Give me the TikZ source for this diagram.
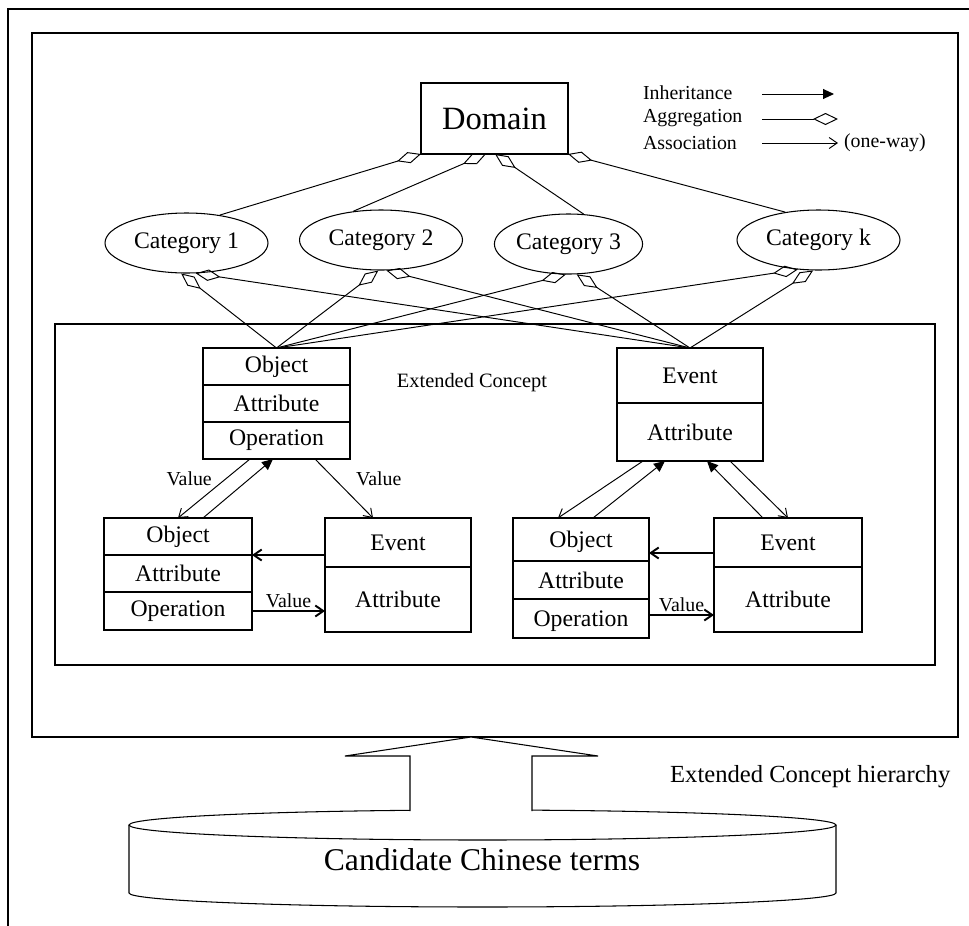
\documentclass[tikz,border=0pt]{standalone}
\usepackage{fontspec}
\setmainfont{Liberation Serif}
\usetikzlibrary{arrows.meta, positioning, shapes.geometric}
\tikzset{
  cell/.style={rectangle, draw, line width=0.6pt, inner sep=0pt, outer sep=0pt, font=\fontsize{13.5}{15}\selectfont},
  low/.style={text height=1.2em, text depth=0.25em},
  cat/.style={ellipse, draw, line width=0.6pt, inner sep=0pt, minimum width=32.6mm, minimum height=12mm, font=\fontsize{13.5}{15}\selectfont},
  lbl/.style={inner sep=1pt, font=\fontsize{11.3}{13}\selectfont},
  agg/.style={{Diamond[open, length=5mm, width=2.3mm]}-, line width=0.55pt},
  inh/.style={-{Triangle[length=2.2mm, width=2mm]}, line width=0.55pt},
  asc/.style={-{Straight Barb[length=1.6mm, width=2.2mm]}, line width=0.55pt},
  ascb/.style={asc, line width=1.1pt},
}
\begin{document}
\begin{tikzpicture}[x=0.2mm, y=-0.2mm]
\useasboundingbox (0,0) rectangle (969,926);
% frames
\draw[line width=0.6pt] (8,926) -- (8,9) -- (969,9);
\draw[line width=0.6pt] (32,33) rectangle (958,737);
\draw[line width=1.3pt] (55,324) rectangle (935,665);

% domain and categories
\node[cell, minimum width=29.4mm, minimum height=14.2mm, font=\fontsize{18.5}{20}\selectfont] (dom) at (494.5,118.5) {Domain};
\node[cat] (c1) at (186.5,243) {Category 1};
\node[cat] (c2) at (381,240) {Category 2};
\node[cat, minimum width=27.4mm] (c3) at (568.5,244) {Category 3};
\node[cat] (ck) at (818.5,240) {Category k};

% legend
\node[lbl, anchor=west] (lgInh) at (641,93) {Inheritance};
\node[lbl, anchor=west] (lgAgg) at (641,118) {Aggregation};
\node[lbl, anchor=west] (lgAsc) at (641,143) {Association};
\node[lbl, anchor=west] (lgOne) at (842,143) {(one-way)};
\coordinate (lgInhA) at (762,94);  \coordinate (lgInhB) at (834,94);
\coordinate (lgAggA) at (762,119); \coordinate (lgAggB) at (838,119);
\coordinate (lgAscA) at (762,143); \coordinate (lgAscB) at (838,143);
\draw[inh] (lgInhA) -- (lgInhB);
\draw[{Diamond[open, length=5mm, width=2.4mm]}-, line width=0.55pt] (lgAggB) -- (lgAggA);
\draw[asc] (lgAscA) -- (lgAscB);

\draw[agg] (dom.south west) -- (c1.40);
\draw[agg] ([xshift=-1.7mm]dom.south) -- (c2.134);
\draw[agg] ([xshift=0.1mm]dom.south) -- (c3.63);
\draw[agg] (dom.south east) -- (ck.140);

% extended concept: upper boxes
\node[cell, minimum width=29.4mm, minimum height=7.4mm] (objT) at (276.5,366.5) {Object};
\node[cell, minimum width=29.4mm, minimum height=7.4mm, below=0pt of objT] (attT) {Attribute};
\node[cell, minimum width=29.4mm, minimum height=7.4mm, below=0pt of attT] (opT) {Operation};
\node[cell, minimum width=29.2mm, minimum height=11mm] (evT) at (690,375.5) {Event};
\node[cell, minimum width=29.2mm, minimum height=11.6mm, below=0pt of evT] (eaT) {Attribute};
\node[lbl, font=\fontsize{11.6}{13}\selectfont] (ext) at (472,383) {Extended Concept};

\draw[agg] (c1.-100) -- (objT.north);
\draw[agg] (c1.-73) -- (evT.north);
\draw[agg] (c2.-95) -- (objT.north);
\draw[agg] (c2.-80) -- (evT.north);
\draw[agg] (c3.-95) -- (objT.north);
\draw[agg] (c3.-75) -- (evT.north);
\draw[agg] (ck.-125) -- (objT.north);
\draw[agg] (ck.-100) -- (evT.north);

% lower left
\node[cell, minimum width=29.6mm, minimum height=7.4mm] (oL) at (178,536.5) {Object};
\node[cell, minimum width=29.6mm, minimum height=7.4mm, below=0pt of oL] (aL) {Attribute};
\node[cell, minimum width=29.6mm, minimum height=7.6mm, below=0pt of aL] (pL) {Operation};
\node[cell, minimum width=29.2mm, minimum height=9.8mm] (eL) at (398,542.5) {Event};
\node[cell, minimum width=29.2mm, minimum height=13mm, below=0pt of eL] (eaL) {Attribute};

% lower right
\node[cell, low, minimum width=27.2mm, minimum height=8.6mm] (oR) at (581,539.5) {Object};
\node[cell, low, minimum width=27.2mm, minimum height=7.6mm, below=0pt of oR] (aR) {Attribute};
\node[cell, low, minimum width=27.2mm, minimum height=7.8mm, below=0pt of aR] (pR) {Operation};
\node[cell, minimum width=29.6mm, minimum height=9.8mm] (eR) at (788,542.5) {Event};
\node[cell, minimum width=29.6mm, minimum height=13mm, below=0pt of eR] (eaR) {Attribute};

\draw[asc] ([xshift=-5.3mm]opT.south) -- node[lbl, above left] (vA) {Value} (oL.north);
\draw[inh] ([xshift=5mm]oL.north) -- ([xshift=-0.7mm]opT.south);
\draw[asc] ([xshift=7.7mm]opT.south) -- node[lbl, above right, xshift=2mm] (vB) {Value} ([xshift=-5mm]eL.north);
\draw[ascb] (eL.west |- aL.north) -- (aL.north east);
\draw[ascb] (pL.east) -- node[lbl, above] (vC) {Value} (pL.east -| eaL.west);

\draw[asc] ([xshift=-9.4mm]eaT.south) -- ([xshift=-4.6mm]oR.north);
\draw[inh] ([xshift=2.4mm]oR.north) -- ([xshift=-5mm]eaT.south);
\draw[inh] ([xshift=-5mm]eR.north) -- ([xshift=3.4mm]eaT.south);
\draw[asc] ([xshift=8mm]eaT.south) -- (eR.north);
\draw[ascb] ([yshift=-2.1mm]eR.west) -- ([yshift=-2.7mm]oR.east);
\draw[ascb] ([yshift=0.7mm]pR.east) -- node[lbl, above] (vD) {Value} ([yshift=-3.1mm]eaR.west);

% source terms
\draw[line width=0.6pt] (129,825) -- (129,893) arc[start angle=180, end angle=0, x radius=353.5, y radius=14] -- (836,825);
\draw[line width=0.6pt] (482.5,825) ellipse[x radius=353.5, y radius=15];
\node[font=\fontsize{18}{20}\selectfont] (db) at (482,860) {Candidate Chinese terms};
\draw[line width=0.6pt, fill=white] (410,811) -- (410,756) -- (345,756) -- (471,737) -- (598,756) -- (532,756) -- (532,811);
\node[anchor=west, font=\fontsize{14}{16}\selectfont] (hier) at (664,777) {Extended Concept hierarchy};
\end{tikzpicture}
\end{document}
